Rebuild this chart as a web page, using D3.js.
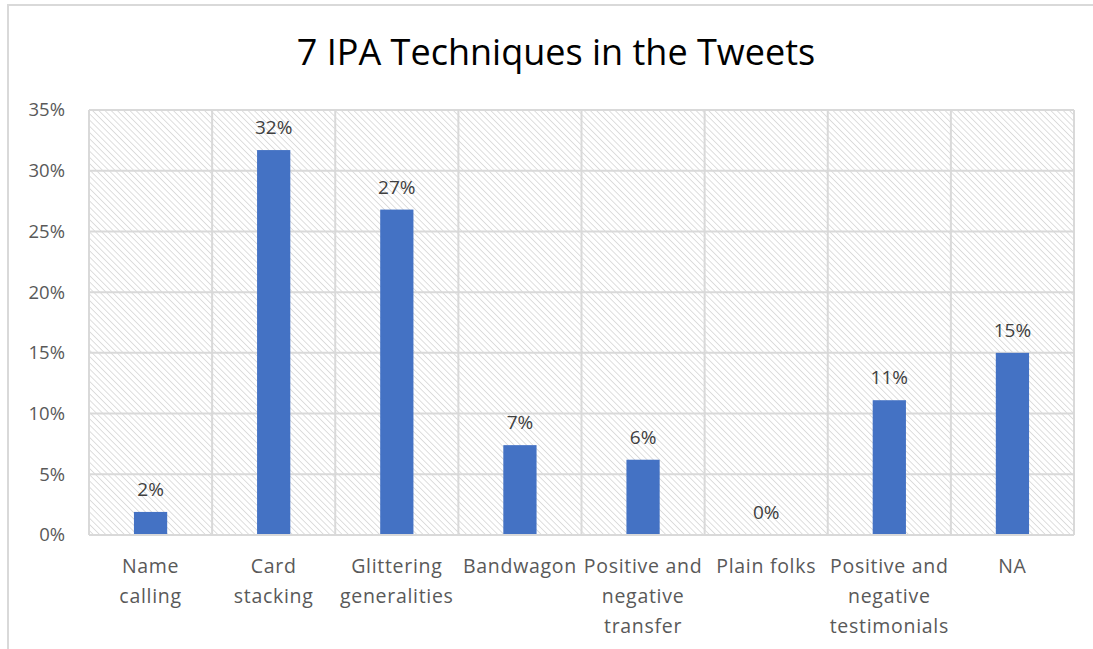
<!DOCTYPE html>
<html>
<head>
<meta charset="utf-8">
<script src="https://cdn.jsdelivr.net/npm/d3@7"></script>
<style>
  html, body { margin: 0; padding: 0; background: #fff; }
  svg { display: block; }
  text { font-family: "Open Sans", "Liberation Sans", sans-serif; }
</style>
</head>
<body>
<svg id="chart" width="1093" height="649"></svg>
<script>
// Share of each propaganda technique among the tweets
const categories = [
  "Name calling", "Card stacking", "Glittering generalities", "Bandwagon",
  "Positive and negative transfer", "Plain folks",
  "Positive and negative testimonials", "NA"
];
// Label lines for each category on the x axis
const categoryLines = [
  ["Name", "calling"], ["Card", "stacking"], ["Glittering", "generalities"],
  ["Bandwagon"], ["Positive and", "negative", "transfer"], ["Plain folks"],
  ["Positive and", "negative", "testimonials"], ["NA"]
];
const shares = [0.019, 0.317, 0.268, 0.074, 0.062, 0.0, 0.111, 0.150];
const yTicks = [0, 0.05, 0.10, 0.15, 0.20, 0.25, 0.30, 0.35];
const chartTitle = "7 IPA Techniques in the Tweets";

const W = 1093, H = 649;
const plot = { left: 89, right: 1074, top: 110, bottom: 535 };

const svg = d3.select("#chart");

// hatched plot background (downward diagonal)
const defs = svg.append("defs");
const step = 4.4;
const pat = defs.append("pattern")
  .attr("id", "hatch")
  .attr("patternUnits", "userSpaceOnUse")
  .attr("width", step).attr("height", step)
  .attr("patternTransform", "rotate(-45)");
pat.append("rect").attr("width", step).attr("height", step).attr("fill", "#fff");
pat.append("line")
  .attr("x1", 0).attr("y1", 0).attr("x2", 0).attr("y2", step)
  .attr("stroke", "#d6d6d6").attr("stroke-width", 1.6);

// outer chart frame
svg.append("rect")
  .attr("x", 8).attr("y", 5)
  .attr("width", W + 20).attr("height", H + 20)
  .attr("fill", "#fff").attr("stroke", "#d9d9d9").attr("stroke-width", 2);

const x = d3.scaleBand()
  .domain(categories)
  .range([plot.left, plot.right])
  .paddingInner(0).paddingOuter(0);

const y = d3.scaleLinear()
  .domain([0, 0.35])
  .range([plot.bottom, plot.top]);

svg.append("rect")
  .attr("x", plot.left).attr("y", plot.top)
  .attr("width", plot.right - plot.left).attr("height", plot.bottom - plot.top)
  .attr("fill", "url(#hatch)");

// horizontal gridlines
svg.append("g")
  .selectAll("line")
  .data(yTicks)
  .join("line")
  .attr("x1", plot.left).attr("x2", plot.right)
  .attr("y1", d => y(d)).attr("y2", d => y(d))
  .attr("stroke", "#d9d9d9").attr("stroke-width", 2);

// vertical gridlines at category boundaries
const bounds = categories.map(c => x(c)).concat([plot.right]);
svg.append("g")
  .selectAll("line")
  .data(bounds)
  .join("line")
  .attr("x1", d => d).attr("x2", d => d)
  .attr("y1", plot.top).attr("y2", plot.bottom)
  .attr("stroke", "#d9d9d9").attr("stroke-width", 2);

// y axis labels
const yAxis = d3.axisLeft(y)
  .tickValues(yTicks)
  .tickFormat(d3.format(".0%"))
  .tickSize(0)
  .tickPadding(24);
const gy = svg.append("g")
  .attr("transform", `translate(${plot.left},0)`)
  .call(yAxis);
gy.select(".domain").remove();
gy.selectAll("text")
  .attr("fill", "#595959")
  .style("font-size", "18.5px");

// bars
const barW = x.bandwidth() * 0.27;
svg.append("g")
  .selectAll("rect")
  .data(shares)
  .join("rect")
  .attr("x", (d, i) => x(categories[i]) + (x.bandwidth() - barW) / 2)
  .attr("y", d => y(d))
  .attr("width", barW)
  .attr("height", d => y(0) - y(d))
  .attr("fill", "#4472c4");

// value labels
svg.append("g")
  .selectAll("text")
  .data(shares)
  .join("text")
  .attr("x", (d, i) => x(categories[i]) + x.bandwidth() / 2)
  .attr("y", d => y(d) - 16)
  .attr("text-anchor", "middle")
  .attr("fill", "#404040")
  .style("font-size", "19px")
  .text(d => d3.format(".0%")(d));

// bottom axis line
svg.append("line")
  .attr("x1", plot.left).attr("x2", plot.right)
  .attr("y1", plot.bottom).attr("y2", plot.bottom)
  .attr("stroke", "#d9d9d9").attr("stroke-width", 2);

// category labels
const cat = svg.append("g")
  .selectAll("text")
  .data(categoryLines)
  .join("text")
  .attr("text-anchor", "middle")
  .attr("fill", "#595959")
  .style("font-size", "19.5px")
  .style("letter-spacing", "0.7px")
  .attr("transform", (d, i) => `translate(${x(categories[i]) + x.bandwidth() / 2},573)`);
cat.selectAll("tspan")
  .data(d => d)
  .join("tspan")
  .attr("x", 0)
  .attr("y", (d, i) => i * 30)
  .text(d => d);

// title
svg.append("text")
  .attr("x", 556)
  .attr("y", 65)
  .attr("text-anchor", "middle")
  .attr("fill", "#000")
  .style("font-size", "36px")
  .text(chartTitle);
</script>
</body>
</html>
